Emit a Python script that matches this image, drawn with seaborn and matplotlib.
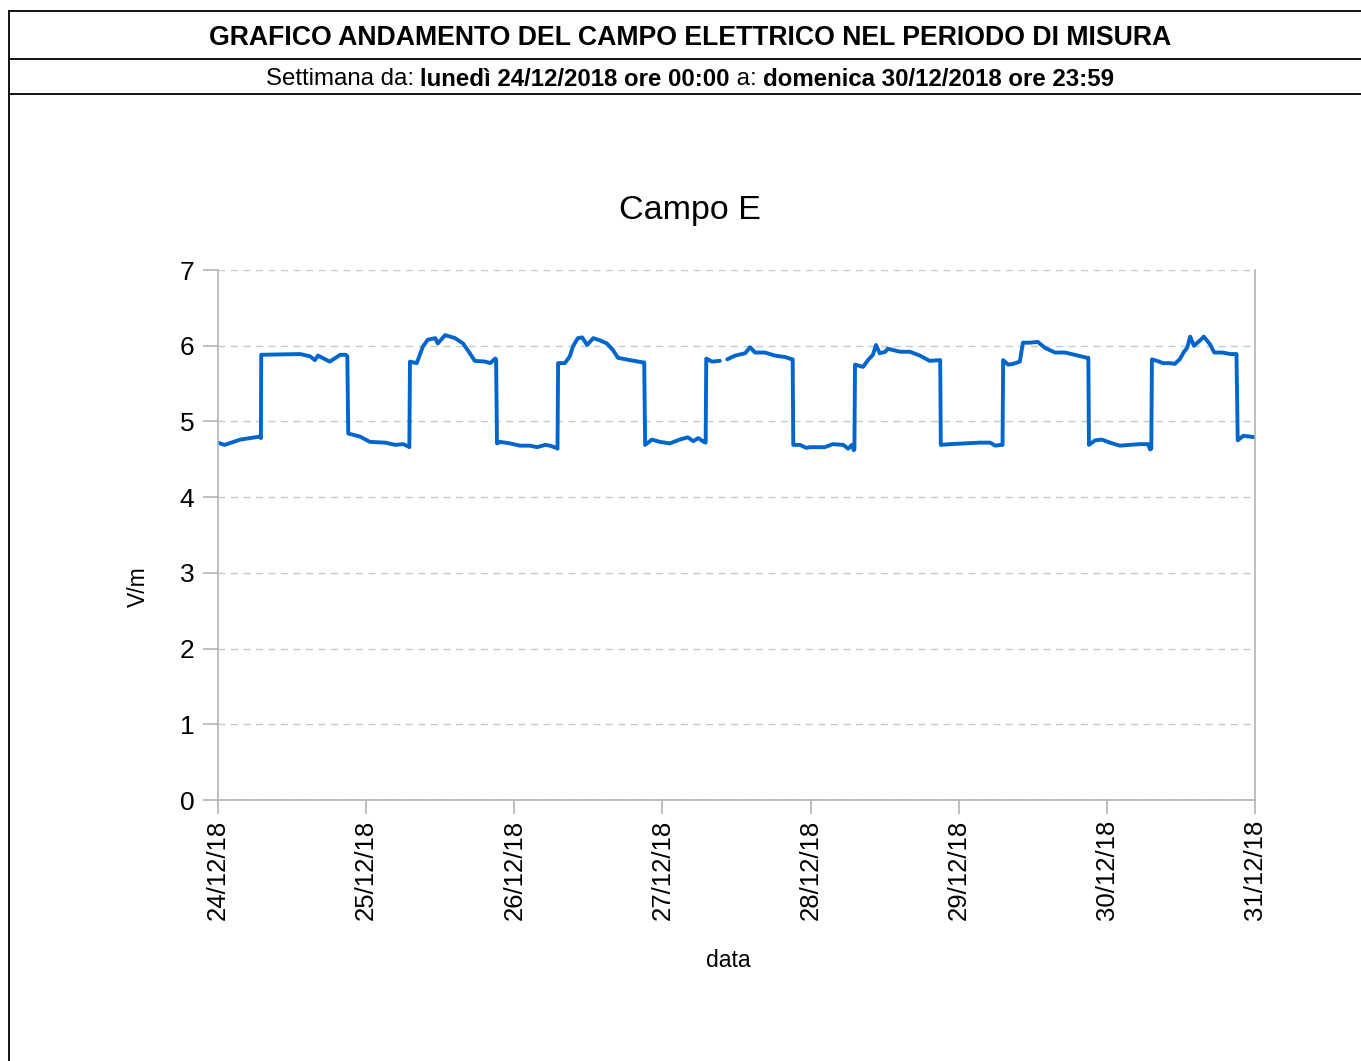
import matplotlib
matplotlib.use("Agg")
import matplotlib.pyplot as plt
import matplotlib.dates as mdates
from matplotlib.lines import Line2D
import pandas as pd
import seaborn as sns

# ore dall'inizio della settimana (lun 24/12/2018 00:00) e campo E in V/m
hours = [
    0.0, 0.3, 1.1, 3.6, 6.8, 6.95,
    7.0, 13.3, 14.9, 15.7, 16.2, 18.1, 19.8, 20.7, 20.95,
    21.1, 23.0, 24.6, 27.1, 28.7, 30.0, 30.8, 31.0,
    31.1, 32.2, 33.2, 34.0, 35.2, 35.6, 36.8, 38.4, 39.7, 40.8, 41.6, 43.3, 44.1, 44.9, 45.05,
    45.2, 45.7, 47.3, 48.9, 50.5, 51.7, 53.0, 53.8, 54.8, 55.0,
    55.1, 56.2, 57.0, 57.5, 58.3, 59.0, 59.8, 60.8, 61.9, 63.0, 64.0, 64.8, 66.7, 68.8, 69.05,
    69.2, 70.3, 71.6, 73.2, 74.8, 76.1, 77.0, 77.8, 78.7, 79.0,
    79.1, 80.0, 81.3,
    82.5, 83.8, 85.4, 86.2, 87.0, 88.6, 90.2, 91.9, 93.0, 93.1,
    93.2, 94.3, 95.3, 95.9, 98.3, 99.6, 101.3, 102.1, 102.7, 103.0, 103.1,
    103.2, 104.5, 105.3, 106.1, 106.6, 107.2, 108.1, 108.5, 110.5, 112.1, 113.7, 115.3, 117.0,
    117.1, 118.6, 121.0, 123.4, 125.1, 125.9, 126.8, 127.1,
    127.2, 128.0, 128.8, 129.9, 130.4, 131.5, 132.8, 134.0, 135.6, 137.2, 138.8, 140.8, 141.0,
    141.1, 142.1, 143.2, 144.5, 146.1, 147.7, 149.4, 150.7, 151.0, 151.2,
    151.3, 152.1, 153.1, 154.2, 155.0, 155.8, 156.5, 157.0, 157.5, 158.1, 159.1, 159.7, 160.7,
    161.4, 162.7, 164.0, 165.0,
    165.2, 166.1, 167.2, 168.0,
]
values = [
    4.72, 4.71, 4.69, 4.76, 4.80, 4.78,
    5.88, 5.89, 5.86, 5.81, 5.87, 5.79, 5.88, 5.88, 5.86,
    4.84, 4.80, 4.73, 4.72, 4.69, 4.70, 4.67, 4.66,
    5.79, 5.77, 5.99, 6.08, 6.10, 6.03, 6.14, 6.10, 6.03, 5.90, 5.80, 5.79, 5.77, 5.83, 5.82,
    4.71, 4.73, 4.71, 4.68, 4.68, 4.66, 4.69, 4.68, 4.65, 4.64,
    5.77, 5.77, 5.86, 5.99, 6.10, 6.11, 6.01, 6.10, 6.07, 6.03, 5.94, 5.84, 5.81, 5.78, 5.78,
    4.69, 4.76, 4.73, 4.71, 4.76, 4.79, 4.74, 4.78, 4.73, 4.72,
    5.83, 5.79, 5.80,
    5.82, 5.87, 5.90, 5.98, 5.91, 5.91, 5.87, 5.85, 5.82, 5.82,
    4.69, 4.69, 4.65, 4.66, 4.66, 4.70, 4.69, 4.64, 4.69, 4.62, 4.63,
    5.75, 5.72, 5.81, 5.88, 6.01, 5.90, 5.92, 5.96, 5.92, 5.92, 5.87, 5.80, 5.81,
    4.69, 4.70, 4.71, 4.72, 4.72, 4.68, 4.69, 4.69,
    5.81, 5.75, 5.76, 5.79, 6.04, 6.04, 6.05, 5.97, 5.91, 5.91, 5.88, 5.84, 5.84,
    4.69, 4.75, 4.76, 4.72, 4.68, 4.69, 4.70, 4.70, 4.63, 4.64,
    5.82, 5.80, 5.77, 5.77, 5.76, 5.82, 5.92, 5.97, 6.12, 6.00, 6.07, 6.12, 6.02,
    5.91, 5.91, 5.89, 5.89,
    4.75, 4.81, 4.80, 4.79,
]
# breve interruzione della registrazione il 27/12 verso le 09:30
gap_after_hour = 81.3

day_ticks = pd.date_range("2018-12-24", "2018-12-31", freq="D")
y_ticks = [0, 1, 2, 3, 4, 5, 6, 7]

title_main = "GRAFICO ANDAMENTO DEL CAMPO ELETTRICO NEL PERIODO DI MISURA"
subtitle_parts = [
    ("Settimana da: ", "normal"),
    ("lunedì 24/12/2018 ore 00:00", "bold"),
    (" a: ", "normal"),
    ("domenica 30/12/2018 ore 23:59", "bold"),
]

LINE_COLOR = "#0066cc"
AXIS_GRAY = "#b3b3b3"

df = pd.DataFrame({"ore": hours, "campo": values})
df["data"] = pd.Timestamp("2018-12-24") + pd.to_timedelta(df["ore"], unit="h")
df["tratto"] = (df["ore"] > gap_after_hour).astype(int)

sns.set_style("white")
plt.rcParams["font.family"] = ["Liberation Sans", "DejaVu Sans"]
plt.rcParams["text.color"] = "black"
plt.rcParams["axes.labelcolor"] = "black"
plt.rcParams["xtick.labelcolor"] = "black"
plt.rcParams["ytick.labelcolor"] = "black"

W, H = 1361, 1061
def fx(px):
    return px / W
def fy(py):
    return 1 - py / H

fig = plt.figure(figsize=(W / 100, H / 100), dpi=100)
ax = fig.add_axes([fx(218), fy(800), (1255 - 218) / W, (800 - 270) / H])

sns.lineplot(data=df, x="data", y="campo", units="tratto", estimator=None,
             color=LINE_COLOR, linewidth=2.8, ax=ax, legend=False)

ax.set_xlim(day_ticks[0], day_ticks[-1])
ax.set_ylim(0, 7)
ax.set_xticks(day_ticks)
ax.xaxis.set_major_formatter(mdates.DateFormatter("%d/%m/%y"))
ax.set_yticks(y_ticks)
ax.tick_params(axis="x", labelrotation=90, labelsize=18.5, length=10, width=1.2,
               color=AXIS_GRAY, pad=4, bottom=True)
ax.tick_params(axis="y", labelsize=19, length=11, width=1.2, color=AXIS_GRAY,
               pad=6, left=True)
ax.yaxis.grid(True, linestyle=(0, (5, 4)), color="#c8c8c8", linewidth=1)
ax.xaxis.grid(False)
for spine in ax.spines.values():
    spine.set_color(AXIS_GRAY)
    spine.set_linewidth(1.2)
ax.spines["top"].set_visible(False)

ax.set_xlabel("data", fontsize=16.5)
ax.set_ylabel("V/m", fontsize=16.5)
ax.xaxis.set_label_coords((728 - 218) / 1037, -(949 - 800) / 530)
ax.yaxis.set_label_coords((150 - 218) / 1037, (800 - 587) / 530)

fig.text(fx(690), fy(210), "Campo E", ha="center", va="center", fontsize=24.5)

# cornice e intestazione
border = dict(color="black", linewidth=1.3, transform=fig.transFigure)
fig.add_artist(Line2D([fx(9), 1], [fy(11), fy(11)], **border))
fig.add_artist(Line2D([fx(9), 1], [fy(59), fy(59)], **border))
fig.add_artist(Line2D([fx(9), 1], [fy(94), fy(94)], **border))
fig.add_artist(Line2D([fx(9), fx(9)], [fy(11), 0], **border))

fig.text(fx(690), fy(38), title_main, ha="center", va="center",
         fontsize=19.2, fontweight="bold")

renderer = fig.canvas.get_renderer()
pieces = [fig.text(0, fy(79), txt, ha="left", va="center", fontsize=17.3, fontweight=w)
          for txt, w in subtitle_parts]
widths = [p.get_window_extent(renderer).width for p in pieces]
x0 = 690 - sum(widths) / 2
for p, w in zip(pieces, widths):
    p.set_x(fx(x0))
    x0 += w

fig.savefig("out.png", dpi=100)
